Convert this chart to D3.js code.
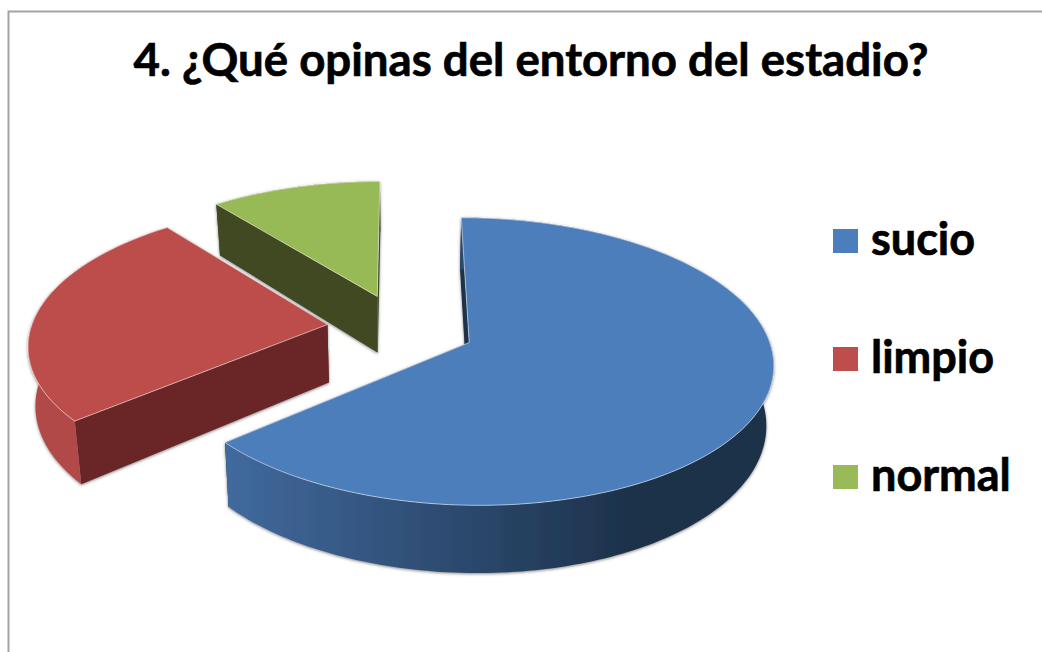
<!DOCTYPE html>
<html>
<head>
<meta charset="utf-8">
<title>Entorno del estadio</title>
<script src="https://cdn.jsdelivr.net/npm/d3@7"></script>
<style>
  html, body { margin: 0; padding: 0; background: #fff; overflow: hidden; }
  text { font-family: Lato, "Open Sans", sans-serif; font-weight: 700; fill: #000; stroke: #000; stroke-width: 0.7; }
</style>
</head>
<body>
<svg id="chart" width="1042" height="652"></svg>
<script>
// Data
var title = "4. ¿Qué opinas del entorno del estadio?";
var categories = ["sucio", "limpio", "normal"];
var values = [63.8, 25.5, 10.7];

// Colours per category: top face, cut wall, outer rim
var top_colors = ["#4c7ebb", "#bd4e4b", "#98ba57"];
var wall_colors = ["#1c3149", "#6a2725", "#3f4a20"];
var rim_colors = ["url(#blue-rim)", "#b04a47", "#3f4a20"];

// Pie geometry, in unit-circle plane coordinates
var explode = 0.25,    // how far each slice is pulled out of the centre
    persp = 0.13,      // perspective strength along the depth axis
    lean = 0.02,       // vertical edges converge slightly towards the centre
    thickness = 58;    // pie height in pixels

var svg = d3.select("#chart");

var x_scale = d3.scaleLinear().domain([-1, 1]).range([104.5, 697.5]);
var y_scale = d3.scaleLinear().domain([-1, 1]).range([190.4, 465.4]);

// Plane point + height (0 or 1) to screen. Nearer points get larger.
function project(px, py, z) {
  var w = 1 - persp * py,
      sx = x_scale(px / w);
  return [
    sx + z * lean * (x_scale(0) - sx),
    y_scale(py / w) + z * thickness / w
  ];
}

var line = d3.line();

// Sample points along the rim of a slice, from a0 to a1
function arc_points(d, a0, a1, z) {
  var n = Math.max(2, Math.ceil(Math.abs(a1 - a0) / 0.02));
  return d3.range(n + 1).map(function(i) {
    var a = a0 + (a1 - a0) * i / n;
    return project(d.ox + Math.sin(a), d.oy - Math.cos(a), z);
  });
}

var pie = d3.pie().sort(null).value(function(v) { return v; });
var slices = pie(values).map(function(d, i) {
  var mid = (d.startAngle + d.endAngle) / 2;
  d.index = i;
  d.ox = explode * Math.sin(mid);
  d.oy = -explode * Math.cos(mid);
  return d;
});

////////////////////////////////////////////////
// Defs: rim gradient and the soft shadow under the slices

var defs = svg.append("defs");

var grad = defs.append("linearGradient")
  .attr("id", "blue-rim")
  .attr("gradientUnits", "userSpaceOnUse")
  .attr("x1", 225).attr("x2", 640).attr("y1", 0).attr("y2", 0);
grad.append("stop").attr("offset", 0).attr("stop-color", "#416a9e");
grad.append("stop").attr("offset", 1).attr("stop-color", "#1c3049");

defs.append("filter")
  .attr("id", "shadow")
  .attr("x", "-5%").attr("y", "-5%").attr("width", "110%").attr("height", "110%")
  .append("feDropShadow")
    .attr("dx", 0).attr("dy", 1)
    .attr("stdDeviation", 1.5)
    .attr("flood-color", "#555")
    .attr("flood-opacity", 0.7);

////////////////////////////////////////////////
// Frame and title

svg.append("path")
  .attr("d", "M8.5,652V11.5H1042")
  .attr("fill", "none")
  .attr("stroke", "#a3a3a3")
  .attr("stroke-width", 2);

svg.append("text")
  .attr("x", 531)
  .attr("y", 76)
  .attr("text-anchor", "middle")
  .attr("font-size", 45.6)
  .text(title);

////////////////////////////////////////////////
// Slices, back to front

var draw_order = [2, 1, 0];

draw_order.forEach(function(i) {
  var d = slices[i],
      g = svg.append("g").attr("class", "slice").attr("filter", "url(#shadow)");

  var apex_top = project(d.ox, d.oy, 0),
      apex_bot = project(d.ox, d.oy, 1);

  // The two cut walls
  [d.startAngle, d.endAngle].forEach(function(a) {
    var rim_top = arc_points(d, a, a, 0)[0],
        rim_bot = arc_points(d, a, a, 1)[0];
    g.append("path")
      .attr("d", line([apex_top, rim_top, rim_bot, apex_bot]) + "Z")
      .attr("fill", wall_colors[i]);
  });

  // Outer rim
  var upper = arc_points(d, d.startAngle, d.endAngle, 0),
      lower = arc_points(d, d.startAngle, d.endAngle, 1).reverse();
  g.append("path")
    .attr("d", line(upper.concat(lower)) + "Z")
    .attr("fill", rim_colors[i]);

  // Top face with its light bevel edge
  g.append("path")
    .attr("d", line([apex_top].concat(upper)) + "Z")
    .attr("fill", top_colors[i])
    .attr("stroke", "#fff")
    .attr("stroke-opacity", 0.55)
    .attr("stroke-width", 1);
});

////////////////////////////////////////////////
// Legend

var legend_y = d3.scalePoint().domain(categories).range([241, 477]);

var legend = svg.selectAll("g.legend")
  .data(categories)
  .enter().append("g")
    .attr("class", "legend")
    .attr("transform", function(c) { return "translate(833," + legend_y(c) + ")"; });

legend.append("rect")
  .attr("y", -12)
  .attr("width", 25)
  .attr("height", 24)
  .attr("fill", function(c, i) { return top_colors[i]; });

legend.append("text")
  .attr("x", 38)
  .attr("y", 14)
  .attr("font-size", 45)
  .text(function(c) { return c; });
</script>
</body>
</html>
